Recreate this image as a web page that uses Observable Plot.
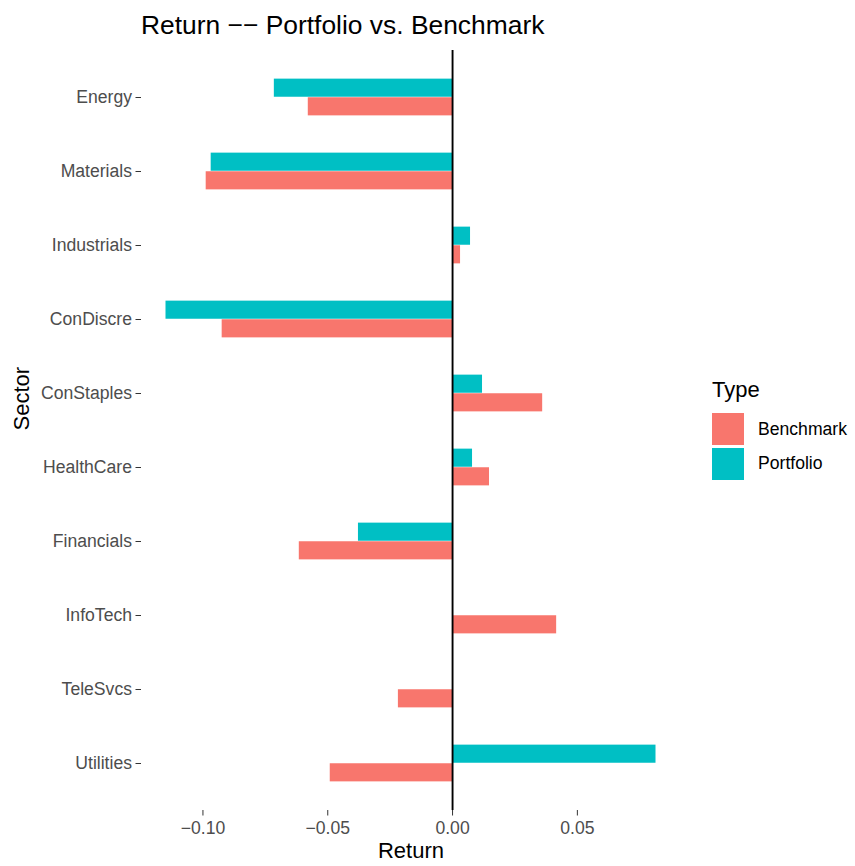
<!DOCTYPE html>
<html>
<head>
<meta charset="utf-8">
<script src="https://cdn.jsdelivr.net/npm/d3@7"></script>
<script src="https://cdn.jsdelivr.net/npm/@observablehq/plot@0.6"></script>
<style>
  html, body { margin: 0; padding: 0; background: #fff; }
  #wrap { position: relative; width: 855px; height: 866px; font-family: "Liberation Sans", Arial, sans-serif; }
  #title { height: 45px; line-height: 50px; padding-left: 141px; font-size: 26.4px; color: #000; white-space: nowrap; overflow: visible; }
  #chart svg { display: block; }
  #legend { position: absolute; left: 712px; top: 375px; color: #000; }
  #legend .lt { font-size: 22px; line-height: 30px; margin-bottom: 7px; }
  #legend .row { display: flex; align-items: center; height: 34.5px; }
  #legend .key { width: 32px; height: 32px; margin-right: 14px; }
  #legend .lab { font-size: 17.6px; }
</style>
</head>
<body>
<div id="wrap">
  <div id="title">Return &minus;&minus; Portfolio vs. Benchmark</div>
  <div id="chart"></div>
  <div id="legend"></div>
</div>
<script>
const sectors = ["Energy","Materials","Industrials","ConDiscre","ConStaples","HealthCare","Financials","InfoTech","TeleSvcs","Utilities"];
const portfolio = [-0.0714, -0.0967, 0.0072, -0.1148, 0.0120, 0.0080, -0.0377, 0, 0, 0.0815];
const benchmark = [-0.0578, -0.0987, 0.0032, -0.0923, 0.0361, 0.0148, -0.0614, 0.0417, -0.0217, -0.0490];
const types = ["Benchmark", "Portfolio"];
const typeColors = ["#F8766D", "#00BFC4"];
const xTicks = [-0.10, -0.05, 0.00, 0.05];

const rows = [];
sectors.forEach((s, i) => {
  rows.push({Sector: s, Type: "Portfolio", Return: portfolio[i]});
  rows.push({Sector: s, Type: "Benchmark", Return: benchmark[i]});
});

const ext = d3.extent(rows, d => d.Return);
const pad = (ext[1] - ext[0]) * 0.05;

const marginTop = 5, marginBottom = 56, height = 821;
const innerH = height - marginTop - marginBottom;
const step = innerH / (sectors.length + 0.2);

const fmt = d => d.toFixed(2).replace("-", "\u2212");

const chart = Plot.plot({
  width: 855,
  height,
  marginLeft: 141,
  marginRight: 175,
  marginTop,
  marginBottom,
  style: {fontFamily: "'Liberation Sans', Arial, sans-serif", fontSize: "17.6px", color: "#4D4D4D", background: "#fff"},
  x: {domain: [ext[0] - pad, ext[1] + pad]},
  y: {domain: sectors, paddingInner: 0, paddingOuter: 0.1},
  color: {domain: types, range: typeColors},
  marks: [
    Plot.barX(rows.filter(d => d.Type === "Portfolio"), {
      y: "Sector", x: "Return", fill: "Type",
      insetTop: step * 0.25, insetBottom: step * 0.5
    }),
    Plot.barX(rows.filter(d => d.Type === "Benchmark"), {
      y: "Sector", x: "Return", fill: "Type",
      insetTop: step * 0.5, insetBottom: step * 0.25
    }),
    Plot.ruleX([0], {stroke: "#000", strokeWidth: 1.9}),
    Plot.axisY({tickSize: 5.5, tickPadding: 4, label: null, stroke: "#333"}),
    Plot.axisX({ticks: xTicks, tickFormat: fmt, tickSize: 5.5, tickPadding: 5, label: null, stroke: "#333"}),
    Plot.text(["Return"], {text: d => d, frameAnchor: "bottom", lineAnchor: "bottom", dy: 47, fontSize: 22, fill: "#000"}),
    Plot.text(["Sector"], {text: d => d, frameAnchor: "left", lineAnchor: "bottom", rotate: -90, dx: -113, fontSize: 22, fill: "#000"})
  ]
});
document.getElementById("chart").appendChild(chart);

const legend = document.getElementById("legend");
const lt = document.createElement("div");
lt.className = "lt"; lt.textContent = "Type";
legend.appendChild(lt);
types.forEach((t, i) => {
  const row = document.createElement("div"); row.className = "row";
  const k = document.createElement("div"); k.className = "key"; k.style.background = typeColors[i];
  const l = document.createElement("div"); l.className = "lab"; l.textContent = t;
  row.appendChild(k); row.appendChild(l);
  legend.appendChild(row);
});
</script>
</body>
</html>
